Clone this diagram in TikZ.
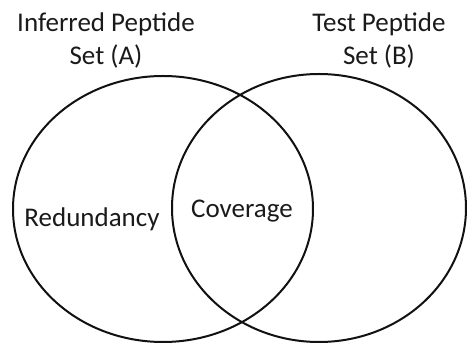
\documentclass[tikz,border=0pt]{standalone}
\usepackage{fontspec}
\setmainfont{Carlito}
\definecolor{vennLine}{HTML}{111111}
\definecolor{vennInk}{HTML}{1A1A1A}

\begin{document}
\begin{tikzpicture}[x=1pt,y=-1pt,
    setring/.style={draw=vennLine,line width=2pt},
    setlabel/.style={text=vennInk,font=\fontsize{27}{33}\selectfont,align=center,inner sep=0pt},
    regionlabel/.style={text=vennInk,font=\fontsize{27}{33}\selectfont,inner sep=0pt,anchor=base}]
    \useasboundingbox (0,0) rectangle (467,347);
    % the two sets
    \draw[setring] (163,209) ellipse [x radius=150,y radius=133];
    \draw[setring] (319,208) ellipse [x radius=147,y radius=134];
    % set names above the rings (base = last line)
    \node[setlabel,anchor=base] (setA) at (106,65) {Inferred Peptide\\Set (A)};
    \node[setlabel,anchor=base] (setB) at (379,65) {Test Peptide\\Set (B)};
    % regions
    \node[regionlabel] (redundancy) at (92,227) {Redundancy};
    \node[regionlabel] (coverage) at (242,218) {Coverage};
\end{tikzpicture}
\end{document}
